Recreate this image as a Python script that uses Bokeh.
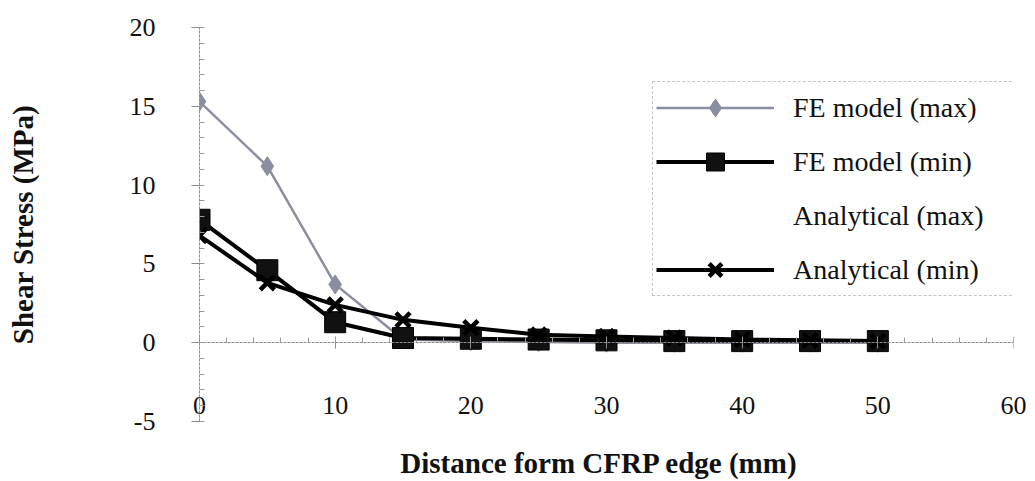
from bokeh.plotting import figure
from bokeh.models import (LinearAxis, Range1d, Legend, LegendItem, SingleIntervalTicker,
                          CustomJSTickFormatter)
from bokeh.embed import file_html
from bokeh.resources import INLINE

# ---- data ----
distance = [0, 5, 10, 15, 20, 25, 30, 35, 40, 45, 50]
fe_max = [15.3, 11.2, 3.7, 0.2, 0.1, 0.05, 0.0, 0.0, 0.0, 0.0, 0.0]
fe_min = [7.8, 4.6, 1.3, 0.3, 0.25, 0.2, 0.15, 0.1, 0.1, 0.1, 0.1]
an_min = [6.8, 3.8, 2.4, 1.45, 0.95, 0.5, 0.4, 0.3, 0.2, 0.15, 0.1]
an_max = [None] * 11  # listed in legend, not drawn

x_label = "Distance form CFRP  edge  (mm)"
y_label = "Shear Stress (MPa)"
names = ["FE model (max)", "FE model (min)", "Analytical (max)", "Analytical (min)"]

SERIF = "Liberation Serif"
GRAY = "#8a8e9e"
AXIS_GRAY = "#8c8c8c"

plain = CustomJSTickFormatter(code="return String(tick);")

p = figure(width=1035, height=481, output_backend="svg", toolbar_location=None,
           x_range=Range1d(0, 60), y_range=Range1d(-5, 20),
           x_axis_location=None, y_axis_location=None,
           min_border_left=199, min_border_right=22, min_border_top=27, min_border_bottom=58)
p.xgrid.visible = False
p.ygrid.visible = False
p.outline_line_color = None
p.background_fill_color = "white"
p.border_fill_color = "white"

# y axis at frame left (x = 0)
yax = LinearAxis(ticker=SingleIntervalTicker(interval=5, num_minor_ticks=5),
                 axis_label=y_label, formatter=plain)
yax.axis_line_color = AXIS_GRAY
yax.axis_line_dash = "3 1"
yax.major_tick_line_color = AXIS_GRAY
yax.minor_tick_line_color = "#9c9c9c"
yax.major_tick_out = 8
yax.major_tick_in = 0
yax.minor_tick_in = 5
yax.minor_tick_out = 0
yax.major_label_standoff = 36
yax.major_label_text_font = SERIF
yax.major_label_text_font_size = "26px"
yax.major_label_text_color = "#111111"
yax.axis_label_text_font = SERIF
yax.axis_label_text_font_style = "bold"
yax.axis_label_text_font_size = "29px"
yax.axis_label_text_color = "#111111"
yax.axis_label_standoff = 88
p.add_layout(yax, "left")

# x axis line and ticks crossing at y = 0
xline = LinearAxis(ticker=SingleIntervalTicker(interval=10, num_minor_ticks=5),
                   fixed_location=0, major_label_text_alpha=0)
xline.axis_line_color = AXIS_GRAY
xline.axis_line_dash = "3 1"
xline.major_tick_line_color = AXIS_GRAY
xline.minor_tick_line_color = "#9c9c9c"
xline.major_tick_out = 6
xline.major_tick_in = 6
xline.minor_tick_in = 5
xline.minor_tick_out = 0
p.add_layout(xline, "below")

# x tick labels (low) and axis title
xax = LinearAxis(ticker=SingleIntervalTicker(interval=10, num_minor_ticks=0),
                 axis_label=x_label, formatter=plain)
xax.axis_line_color = None
xax.major_tick_line_color = None
xax.minor_tick_line_color = None
xax.major_tick_out = 0
xax.major_tick_in = 0
xax.major_label_standoff = -25
xax.major_label_text_font = SERIF
xax.major_label_text_font_size = "26px"
xax.major_label_text_color = "#111111"
xax.axis_label_text_font = SERIF
xax.axis_label_text_font_style = "bold"
xax.axis_label_text_font_size = "29px"
xax.axis_label_text_color = "#111111"
xax.axis_label_standoff = 30
p.add_layout(xax, "below")

# series
r_max_l = p.line(distance, fe_max, line_color=GRAY, line_width=2.5)
r_max_m = p.scatter(distance, fe_max, marker="diamond", size=19, fill_color=GRAY,
                    line_color=GRAY)
r_amax_l = p.line(distance, an_max, line_alpha=0)
r_min_l = p.line(distance, fe_min, line_color="black", line_width=4)
r_min_m = p.scatter(distance, fe_min, marker="square", size=21, fill_color="#111111",
                    line_color="black")
r_an_l = p.line(distance, an_min, line_color="black", line_width=4)
r_an_m = p.scatter(distance, an_min, marker="x", size=20, line_color="black",
                   line_width=4.5)

legend = Legend(items=[
    LegendItem(label=names[0], renderers=[r_max_l, r_max_m]),
    LegendItem(label=names[1], renderers=[r_min_l, r_min_m]),
    LegendItem(label=names[2], renderers=[r_amax_l]),
    LegendItem(label=names[3], renderers=[r_an_l, r_an_m]),
], location=(453, 125))
legend.glyph_width = 118
legend.glyph_height = 45
legend.spacing = 9
legend.padding = 3
legend.margin = 0
legend.label_standoff = 19
legend.label_width = 220
legend.label_text_font = SERIF
legend.label_text_font_size = "28px"
legend.label_text_color = "#111111"
legend.label_text_baseline = "middle"
legend.border_line_color = AXIS_GRAY
legend.border_line_dash = "3 2"
legend.border_line_width = 1
legend.background_fill_color = "white"
legend.background_fill_alpha = 1
p.add_layout(legend, "center")

open("out.html", "w").write(file_html(p, INLINE))
